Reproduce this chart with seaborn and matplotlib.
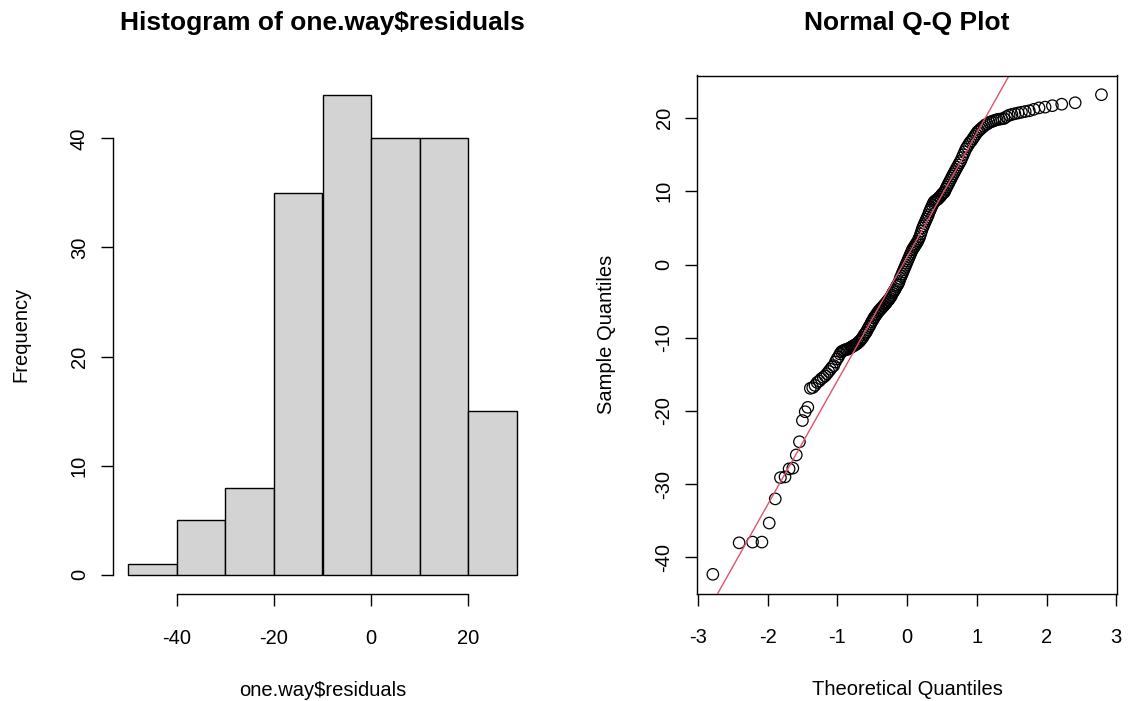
import matplotlib
matplotlib.use("Agg")
import matplotlib.pyplot as plt
import seaborn as sns
import numpy as np
from statistics import NormalDist

# ---- data: sorted residuals (consistent with the histogram) ----
residuals = [
    -42.3, -38.0, -37.9, -37.9, -35.3, -32.0, -29.1, -29.0, -27.9, -27.8,
    -26.0, -24.2, -21.3, -20.1, -19.5, -16.9, -16.8, -16.5, -16.1, -15.9,
    -15.6, -15.4, -15.2, -14.9, -14.6, -14.3, -14.0, -13.8, -13.3, -12.9,
    -12.6, -12.2, -11.9, -11.8, -11.7, -11.6, -11.6, -11.5, -11.4, -11.3,
    -11.2, -11.1, -11.0, -10.9, -10.8, -10.6, -10.5, -10.3, -10.1, -9.9,
    -9.6, -9.4, -9.2, -8.9, -8.6, -8.4, -8.1, -7.8, -7.6, -7.3,
    -7.1, -6.9, -6.7, -6.5, -6.3, -6.2, -6.0, -5.9, -5.7, -5.6,
    -5.4, -5.3, -5.1, -4.9, -4.8, -4.6, -4.4, -4.2, -3.9, -3.7,
    -3.5, -3.3, -3.0, -2.8, -2.6, -2.3, -1.9, -1.6, -1.3, -1.0,
    -0.7, -0.4, -0.1, 0.2, 0.5, 0.8, 1.1, 1.4, 1.7, 2.0,
    2.2, 2.4, 2.6, 2.8, 3.0, 3.2, 3.5, 3.8, 4.2, 4.6,
    5.0, 5.3, 5.6, 5.9, 6.2, 6.5, 6.8, 7.2, 7.5, 7.8,
    8.1, 8.4, 8.6, 8.7, 8.8, 8.9, 9.0, 9.2, 9.3, 9.5,
    9.7, 9.8, 9.95, 10.3, 10.6, 10.9, 11.2, 11.5, 11.8, 12.1,
    12.4, 12.7, 13.0, 13.3, 13.6, 13.9, 14.2, 14.6, 15.0, 15.4,
    15.8, 16.1, 16.4, 16.7, 16.9, 17.2, 17.5, 17.8, 18.1, 18.3,
    18.5, 18.7, 18.9, 19.1, 19.2, 19.4, 19.5, 19.6, 19.7, 19.8,
    19.85, 19.9, 19.95, 20.2, 20.4, 20.5, 20.6, 20.7, 20.8, 20.9,
    21.0, 21.2, 21.4, 21.5, 21.7, 21.9, 22.1, 23.2,
]
hist_breaks = [-50, -40, -30, -20, -10, 0, 10, 20, 30]
hist_xticks = [-40, -20, 0, 20]
hist_yticks = [0, 10, 20, 30, 40]
qq_xticks = [-3, -2, -1, 0, 1, 2, 3]
qq_yticks = [-40, -30, -20, -10, 0, 10, 20]

titles = ["Histogram of one.way$residuals", "Normal Q-Q Plot"]
xlabels = ["one.way$residuals", "Theoretical Quantiles"]
ylabels = ["Frequency", "Sample Quantiles"]

# ---- style ----
sns.set_style("ticks")
plt.rcParams["font.family"] = ["Liberation Sans", "DejaVu Sans"]
plt.rcParams["axes.unicode_minus"] = False
plt.rcParams["text.color"] = "black"
plt.rcParams["axes.labelcolor"] = "black"
plt.rcParams["axes.linewidth"] = 1.0
plt.rcParams["xtick.major.size"] = 8.6
plt.rcParams["ytick.major.size"] = 8.6
plt.rcParams["xtick.major.width"] = 1.0
plt.rcParams["ytick.major.width"] = 1.0
plt.rcParams["xtick.major.pad"] = 16.5
plt.rcParams["ytick.major.pad"] = 8.5
plt.rcParams["xtick.color"] = "black"
plt.rcParams["ytick.color"] = "black"
plt.rcParams["xtick.labelcolor"] = "black"
plt.rcParams["ytick.labelcolor"] = "black"
plt.rcParams["axes.edgecolor"] = "black"

W, H = 1128, 701
fig = plt.figure(figsize=(W / 100, H / 100), dpi=100)
ax1 = fig.add_axes([112.5 / W, 1 - 594 / H, 420 / W, 518.5 / H])
ax2 = fig.add_axes([697.3 / W, 1 - 593.5 / H, 419.7 / W, 518 / H])

res = np.array(residuals)
FS = 14.5
TFS = 19

# ---- histogram ----
sns.histplot(x=res, bins=hist_breaks, ax=ax1, color="#D3D3D3", edgecolor="black",
             linewidth=1.0, alpha=1.0)
counts, _ = np.histogram(res, bins=hist_breaks)
ax1.set_xlim(hist_breaks[0] - 0.04 * (hist_breaks[-1] - hist_breaks[0]),
             hist_breaks[-1] + 0.04 * (hist_breaks[-1] - hist_breaks[0]))
ax1.set_ylim(-0.04 * counts.max(), counts.max() * 1.04)
ax1.set_xticks(hist_xticks)
ax1.set_yticks(hist_yticks)
ax1.spines["top"].set_visible(False)
ax1.spines["right"].set_visible(False)
ax1.spines["left"].set_bounds(hist_yticks[0], hist_yticks[-1])
ax1.spines["bottom"].set_bounds(hist_xticks[0], hist_xticks[-1])

# ---- normal Q-Q ----
n = len(res)
nd = NormalDist()
theo = np.array([nd.inv_cdf((i + 0.5) / n) for i in range(n)])
sns.scatterplot(x=theo, y=res, ax=ax2, marker="o", s=68, facecolor="none",
                edgecolor="black", linewidth=0.9)
q1, q3 = np.quantile(res, [0.25, 0.75])
x1, x3 = nd.inv_cdf(0.25), nd.inv_cdf(0.75)
slope = (q3 - q1) / (x3 - x1)
intercept = q1 - slope * x1
ax2.axline((0, intercept), slope=slope, color="#DF536B", linewidth=1.0)
xr = theo.max() - theo.min()
yr = res.max() - res.min()
ax2.set_xlim(theo.min() - 0.04 * xr, theo.max() + 0.04 * xr)
ax2.set_ylim(res.min() - 0.04 * yr, res.max() + 0.04 * yr)
ax2.set_xticks(qq_xticks)
ax2.set_yticks(qq_yticks)

for ax, t, xl, yl in zip([ax1, ax2], titles, xlabels, ylabels):
    ax.set_title(t, fontsize=TFS, fontweight="bold", pad=33, color="black")
    ax.set_xlabel(xl, fontsize=FS, labelpad=23.5)
    ax.set_ylabel(yl, fontsize=FS, labelpad=28)
    ax.tick_params(axis="both", labelsize=FS, direction="out")
    for lab in ax.get_yticklabels():
        lab.set_rotation(90)
        lab.set_va("center")
    ax.grid(False)

fig.savefig("out.png", dpi=100, facecolor="white")
